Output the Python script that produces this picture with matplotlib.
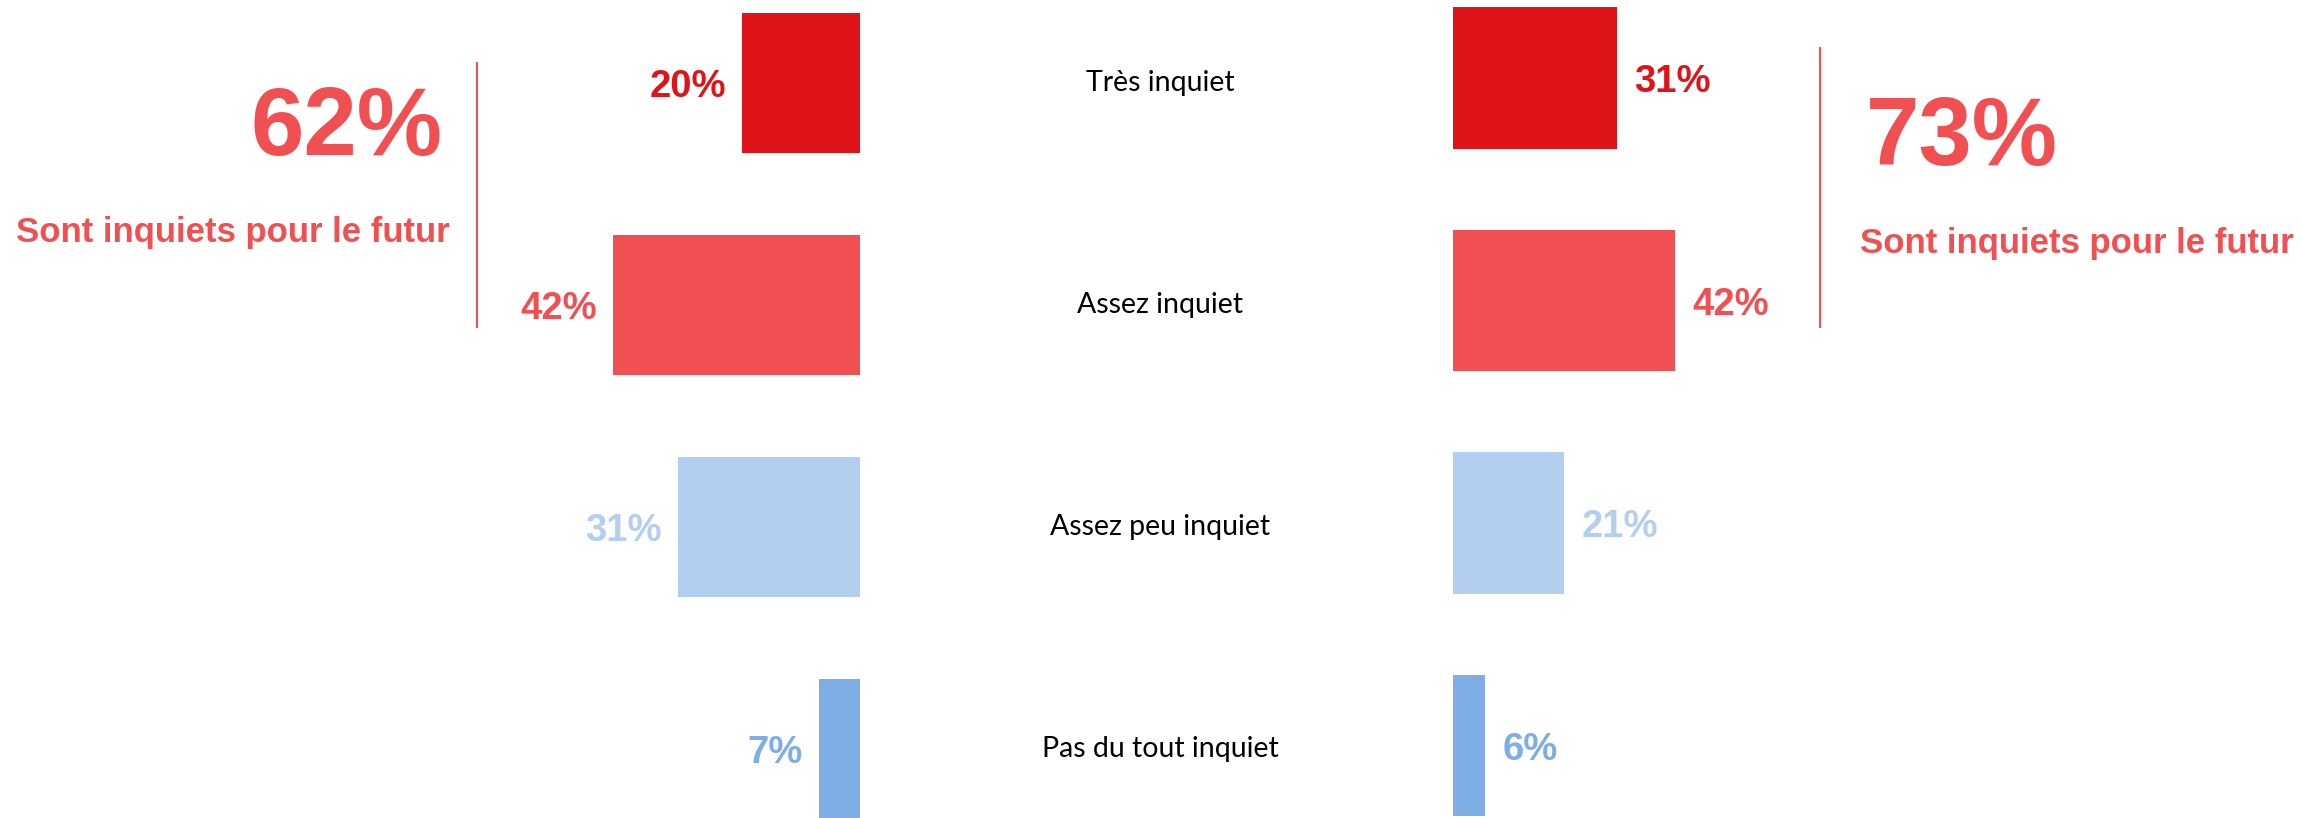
import matplotlib
matplotlib.use("Agg")
import matplotlib.pyplot as plt
from matplotlib.transforms import blended_transform_factory

# ---- data ----
categories = ["Très inquiet", "Assez inquiet", "Assez peu inquiet", "Pas du tout inquiet"]
left_values = [20, 42, 31, 7]
right_values = [31, 42, 21, 6]
left_total = "62%"
right_total = "73%"
total_caption = "Sont inquiets pour le futur"

bar_colors = ["#DE1418", "#F05052", "#B3CEF1", "#7EAEE5"]
text_colors = ["#DE1418", "#F05052", "#B3CEF1", "#7EAEE5"]

W, H = 2301, 818
fig = plt.figure(figsize=(W / 100, H / 100), dpi=100)
fig.patch.set_facecolor("white")


def px_axes(x0, x1, yc_first, spacing):
    """Axes placed in pixel coords; y data 0..3 category centres."""
    top = yc_first - 0.5 * spacing
    bottom = yc_first + 3.5 * spacing
    ax = fig.add_axes([x0 / W, 1 - bottom / H, (x1 - x0) / W, (bottom - top) / H])
    ax.set_ylim(3.5, -0.5)
    ax.axis("off")
    return ax


# left panel: zero at x=860, 5.88 px per %
ppl = 5.88
axL = px_axes(860 - 50 * ppl, 860, 83, 222)
axL.set_xlim(50, 0)
# right panel: zero at x=1453.5, 5.28 px per %
ppr = 5.28
axR = px_axes(1453.5, 1453.5 + 50 * ppr, 78, 222.5)
axR.set_xlim(0, 50)

ypos = list(range(len(categories)))
axL.barh(ypos, left_values, height=0.635, color=bar_colors)
axR.barh(ypos, right_values, height=0.636, color=bar_colors)

pct_font = dict(family="Liberation Sans", weight="bold", fontsize=27.5)
for i, v in enumerate(left_values):
    axL.annotate(f"{v}%", (v, i), xytext=(-11.5, -3), textcoords="offset points",
                 ha="right", va="center", color=text_colors[i], **pct_font)
for i, v in enumerate(right_values):
    axR.annotate(f"{v}%", (v, i), xytext=(12.5, -3), textcoords="offset points",
                 ha="left", va="center", color=text_colors[i], **pct_font)

# category labels centred between the two panels
tr = blended_transform_factory(fig.transFigure, axL.transData)
for i, c in enumerate(categories):
    fig.text(1160 / W, i, c, transform=tr, ha="center", va="center",
             family="Lato", fontsize=20.5, color="black")


def ftxt(x, y, s, **kw):
    fig.text(x / W, 1 - y / H, s, **kw)


red = "#F05052"
# left summary
ftxt(442, 155, left_total, ha="right", va="baseline", family="Liberation Sans",
     weight="bold", fontsize=69, color=red)
ftxt(450, 242, total_caption, ha="right", va="baseline", family="Liberation Sans",
     weight="bold", fontsize=25, color=red)
fig.add_artist(plt.Line2D([477 / W, 477 / W], [1 - 63 / H, 1 - 327 / H],
                          transform=fig.transFigure, color=red, lw=1.5))
# right summary
ftxt(1866, 165, right_total, ha="left", va="baseline", family="Liberation Sans",
     weight="bold", fontsize=69, color=red)
ftxt(1860, 253, total_caption, ha="left", va="baseline", family="Liberation Sans",
     weight="bold", fontsize=25, color=red)
fig.add_artist(plt.Line2D([1820 / W, 1820 / W], [1 - 48 / H, 1 - 327 / H],
                          transform=fig.transFigure, color=red, lw=1.5))

fig.savefig("out.png", dpi=100, facecolor="white")
